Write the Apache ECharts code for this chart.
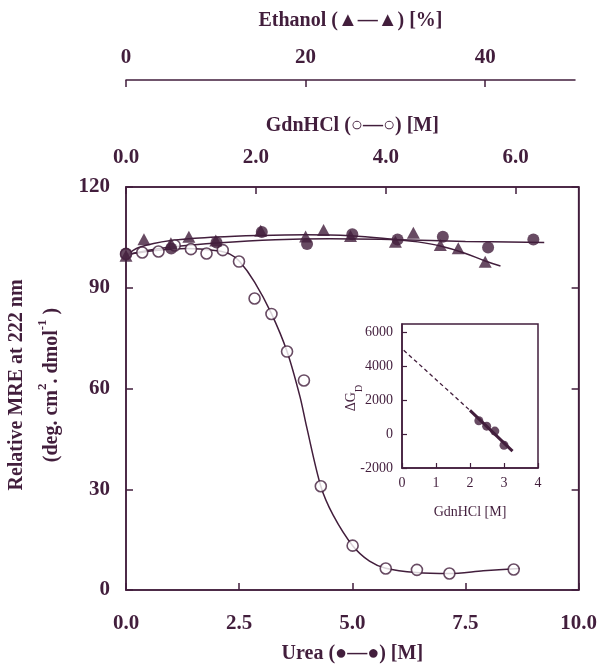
<!DOCTYPE html>
<html>
<head>
<meta charset="utf-8">
<script src="https://cdn.jsdelivr.net/npm/echarts@6/dist/echarts.min.js"></script>
<style>
html,body{margin:0;padding:0;background:#fff;}
#chart{width:600px;height:669px;}
</style>
</head>
<body>
<div id="chart"></div>
<script>
// ---- data ----
// GdnHCl [M] vs relative MRE (open circles)
const gdnPoints = [[0,100],[0.25,100.5],[0.5,100.8],[0.75,102.6],[1.0,101.5],[1.24,100.2],[1.49,101.2],[1.74,97.8],[1.98,86.8],[2.24,82.2],[2.48,71.0],[2.74,62.4],[3.0,30.9],[3.49,13.2],[4.0,6.4],[4.48,6.0],[4.98,4.9],[5.97,6.1]];
const gdnCurve = [[0,99.8],[0.42,101.0],[0.93,101.7],[1.4,101.0],[1.6,100.0],[1.75,97.8],[1.98,91.7],[2.24,82.3],[2.48,71.0],[2.68,57.5],[2.78,48.7],[3.0,30.9],[3.19,22.3],[3.49,13.2],[3.75,8.6],[4.0,6.5],[4.47,5.2],[4.98,4.9],[5.5,5.7],[6.06,6.4]];
// Urea [M] (filled circles)
const ureaPoints = [[0,100.2],[1.0,101.7],[2.0,103.5],[3.0,106.6],[4.0,103.0],[5.0,105.9],[6.0,104.4],[7.0,105.2],[8.0,102.0],[9.0,104.4]];
const ureaCurve = [[0,99.8],[0.5,101.2],[1.0,102.1],[2.0,103.3],[3.3,104.3],[4.5,104.6],[6.0,104.3],[7.5,103.8],[9.24,103.5]];
// Ethanol [%] (filled triangles)
const ethPoints = [[0,99.8],[2,104.7],[5,103.5],[7,105.4],[10,104.3],[15,107.2],[20,105.5],[22,107.4],[25,105.6],[30,103.9],[32,106.6],[35,103.0],[37,102.0],[40,98.1]];
const ethCurve = [[0,99.8],[1.5,102.3],[5,104.3],[10,105.3],[15,105.8],[20,106.0],[25,105.7],[30,104.6],[32.5,103.9],[35,102.7],[37.5,100.8],[40,98.3],[41.7,96.8]];
// Inset: GdnHCl [M] vs dG_D
const insetPoints = [[2.26,790],[2.49,470],[2.73,180],[3.0,-660]];
const insetDashed = [[0.05,4950],[2.0,1400]];
const insetSolid = [[2.0,1400],[3.25,-1000]];
// axis ranges / tick steps
const ureaRange = [0, 10], ureaStep = 2.5;
const gdnRange = [0, 6.97], gdnStep = 2;
const ethRange = [0, 50], ethStep = 20;
const mreRange = [0, 120], mreStep = 30;
const insetXRange = [0, 4], insetXStep = 1;
const insetYRange = [-2000, 6500], insetYStep = 2000;

const C = '#421e3c';
const SERIF = "'Liberation Serif','Times New Roman',serif";
const tickFont = {color: C, fontFamily: SERIF, fontWeight: 'bold', fontSize: 21};
const titleFont = {color: C, fontFamily: SERIF, fontWeight: 'bold', fontSize: 20};
const insetFont = {color: C, fontFamily: SERIF, fontSize: 14};

function mainAxisCommon() {
  return {
    axisLine: {show: true, onZero: false, lineStyle: {color: C, width: 1.5}},
    axisTick: {show: true, inside: true, length: 7, lineStyle: {color: C, width: 1.5}},
    splitLine: {show: false}
  };
}

const chart = echarts.init(document.getElementById('chart'), null, {renderer: 'canvas'});
chart.setOption({
  backgroundColor: '#fff',
  animation: false,
  grid: [
    {left: 126, top: 187, width: 453, height: 409, show: true, borderColor: C, borderWidth: 1.5, backgroundColor: 'transparent'},
    {left: 126, top: 187, width: 449, height: 409, show: false},
    {left: 402, top: 324, width: 136, height: 144, show: true, borderColor: C, borderWidth: 1.5, backgroundColor: '#fff'}
  ],
  xAxis: [
    Object.assign(mainAxisCommon(), {
      type: 'value', gridIndex: 0, position: 'bottom', min: ureaRange[0], max: ureaRange[1], interval: ureaStep,
      axisLabel: Object.assign({margin: 23, formatter: v => v.toFixed(1)}, tickFont),
      name: 'Urea (●—●) [M]', nameLocation: 'middle', nameGap: 54, nameTextStyle: titleFont
    }),
    Object.assign(mainAxisCommon(), {
      type: 'value', gridIndex: 0, position: 'top', min: gdnRange[0], max: gdnRange[1], interval: gdnStep,
      axisLabel: Object.assign({margin: 19, showMaxLabel: false, formatter: v => v.toFixed(1)}, tickFont),
      name: 'GdnHCl (○—○) [M]', nameLocation: 'middle', nameGap: 51, nameTextStyle: titleFont
    }),
    Object.assign(mainAxisCommon(), {
      type: 'value', gridIndex: 1, position: 'top', offset: 107, min: ethRange[0], max: ethRange[1], interval: ethStep,
      axisLabel: Object.assign({margin: 12, showMaxLabel: false, formatter: v => String(v)}, tickFont),
      name: 'Ethanol (▲—▲) [%]', nameLocation: 'middle', nameGap: 49, nameTextStyle: titleFont
    }),
    {
      type: 'value', gridIndex: 2, position: 'bottom', min: insetXRange[0], max: insetXRange[1], interval: insetXStep,
      axisLine: {show: true, onZero: false, lineStyle: {color: C, width: 1.5}},
      axisTick: {show: true, inside: true, length: 5, lineStyle: {color: C, width: 1.2}},
      splitLine: {show: false},
      axisLabel: Object.assign({margin: 8, formatter: v => String(v)}, insetFont),
      name: 'GdnHCl [M]', nameLocation: 'middle', nameGap: 37, nameTextStyle: insetFont
    }
  ],
  yAxis: [
    Object.assign(mainAxisCommon(), {
      type: 'value', gridIndex: 0, position: 'left', min: mreRange[0], max: mreRange[1], interval: mreStep,
      axisLabel: Object.assign({margin: 16, formatter: v => String(v)}, tickFont)
    }),
    Object.assign(mainAxisCommon(), {
      type: 'value', gridIndex: 0, position: 'right', min: mreRange[0], max: mreRange[1], interval: mreStep,
      axisLabel: {show: false}
    }),
    {
      type: 'value', gridIndex: 1, min: mreRange[0], max: mreRange[1], show: false
    },
    {
      type: 'value', gridIndex: 2, position: 'left', min: insetYRange[0], max: insetYRange[1], interval: insetYStep,
      axisLine: {show: true, onZero: false, lineStyle: {color: C, width: 1.5}},
      axisTick: {show: true, inside: true, length: 5, lineStyle: {color: C, width: 1.2}},
      splitLine: {show: false},
      axisLabel: Object.assign({margin: 9, showMaxLabel: false, formatter: v => String(v)}, insetFont)
    }
  ],
  graphic: [
    {
      type: 'text', x: 17, y: 385, rotation: Math.PI / 2,
      style: {text: 'Relative MRE at 222 nm', align: 'center', verticalAlign: 'middle',
        fill: C, font: "bold 20px " + SERIF}
    },
    {
      type: 'text', x: 49, y: 385, rotation: Math.PI / 2,
      style: {
        text: '{m|(deg. cm}{s|2}{m|. dmol}{s|-1}{m| )}', align: 'center', verticalAlign: 'middle', fill: C,
        rich: {
          m: {fontFamily: SERIF, fontWeight: 'bold', fontSize: 20, lineHeight: 26, verticalAlign: 'bottom', fill: C},
          s: {fontFamily: SERIF, fontWeight: 'bold', fontSize: 13, lineHeight: 26, verticalAlign: 'top', fill: C}
        }
      }
    },
    {
      type: 'text', x: 354, y: 398, rotation: Math.PI / 2,
      style: {
        text: '{m|ΔG}{s|D}', align: 'center', verticalAlign: 'middle', fill: C,
        rich: {
          m: {fontFamily: SERIF, fontSize: 14, lineHeight: 20, verticalAlign: 'top', fill: C},
          s: {fontFamily: SERIF, fontSize: 10, lineHeight: 20, verticalAlign: 'bottom', fill: C}
        }
      }
    }
  ],
  series: [
    {type: 'line', xAxisIndex: 1, yAxisIndex: 0, data: gdnCurve, smooth: 0.3, showSymbol: false, z: 2,
      lineStyle: {color: C, width: 1.5}},
    {type: 'line', xAxisIndex: 0, yAxisIndex: 0, data: ureaCurve, smooth: 0.4, showSymbol: false, z: 2,
      lineStyle: {color: C, width: 1.5}},
    {type: 'line', xAxisIndex: 2, yAxisIndex: 2, data: ethCurve, smooth: 0.4, showSymbol: false, z: 2,
      lineStyle: {color: C, width: 1.5}},
    {type: 'scatter', xAxisIndex: 1, yAxisIndex: 0, data: gdnPoints, symbol: 'circle', symbolSize: 11, z: 3,
      itemStyle: {color: '#fff', borderColor: C, borderWidth: 1.6}},
    {type: 'scatter', xAxisIndex: 0, yAxisIndex: 0, data: ureaPoints, symbol: 'circle', symbolSize: 12, z: 4,
      itemStyle: {color: C}},
    {type: 'scatter', xAxisIndex: 2, yAxisIndex: 2, data: ethPoints, symbol: 'triangle', symbolSize: [13, 12], z: 4,
      itemStyle: {color: C}},
    {type: 'line', xAxisIndex: 3, yAxisIndex: 3, data: insetDashed, showSymbol: false, z: 2,
      lineStyle: {color: C, width: 1.3, type: [4, 3]}},
    {type: 'line', xAxisIndex: 3, yAxisIndex: 3, data: insetSolid, showSymbol: false, z: 2,
      lineStyle: {color: C, width: 3}},
    {type: 'scatter', xAxisIndex: 3, yAxisIndex: 3, data: insetPoints, symbol: 'circle', symbolSize: 9, z: 3,
      itemStyle: {color: C}}
  ]
});
</script>
</body>
</html>
